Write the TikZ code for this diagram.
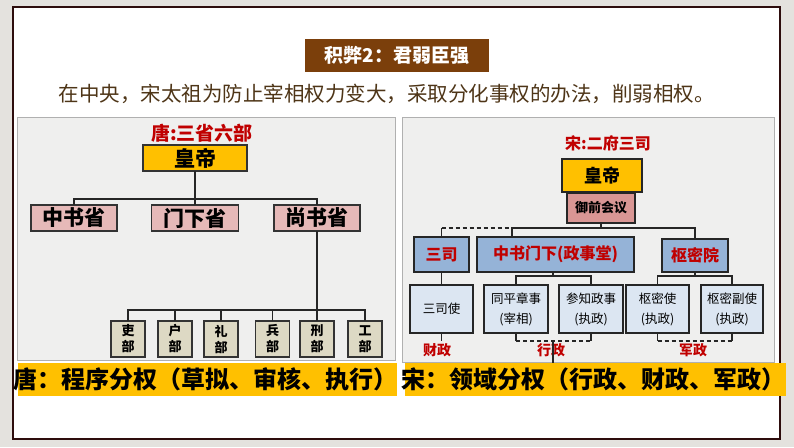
\documentclass[tikz,border=0pt]{standalone}
\usepackage{fontspec}
\setmainfont{Noto Sans CJK SC}
\definecolor{cbg}{HTML}{E4E2DE}
\definecolor{cframe}{HTML}{2E0D0D}
\definecolor{cbrown}{HTML}{7B3F0B}
\definecolor{csubt}{HTML}{4E3517}
\definecolor{cpanel}{HTML}{EFEFEE}
\definecolor{cpanelb}{HTML}{B0B0B0}
\definecolor{cgold}{HTML}{FFC000}
\definecolor{clpink}{HTML}{E6B9B8}
\definecolor{cmgray}{HTML}{DDD9C4}
\definecolor{crpink}{HTML}{D99694}
\definecolor{crblue}{HTML}{95B3D7}
\definecolor{clblue}{HTML}{DCE6F2}
\definecolor{ctred}{HTML}{C00000}
\begin{document}
\begin{tikzpicture}[x=1pt,y=-1pt,
  every node/.style={inner sep=0pt, outer sep=0pt},
  conn/.style={draw=black!85, line width=1.2pt},
  lbox/.style={draw=black!80, line width=1.8pt, fill=clpink, minimum height=26pt,
     font=\fontsize{21}{24}\selectfont\bfseries},
  mbox/.style={draw=black!80, line width=1.8pt, fill=cmgray, minimum width=34pt, minimum height=36pt,
     align=center, font=\fontsize{13}{16}\selectfont\bfseries},
  rbox/.style={draw=black!85, line width=1.5pt, fill=crblue, text=ctred, minimum height=35pt,
     font=\fontsize{16}{18}\selectfont\bfseries},
  sbox/.style={draw=black!85, line width=1.3pt, fill=clblue, minimum height=48pt,
     align=center, font=\fontsize{12.5}{20}\selectfont},
  lbl/.style={text=ctred, font=\fontsize{14}{16}\selectfont\bfseries},
  bantext/.style={font=\fontsize{24}{26}\selectfont\bfseries}
]
\useasboundingbox (0,0) rectangle (794,447);
\fill[cbg] (0,0) rectangle (794,447);
% frame
\draw[cframe, line width=2pt, fill=white] (13,7) rectangle (780,439);
% title
\node[fill=cbrown, minimum width=184pt, minimum height=33pt, text=white,
  font=\fontsize{19}{22}\selectfont\bfseries] (title) at (397,55.5) {积弊2：君弱臣强};
\node[text=csubt, font=\fontsize{20.5}{24}\selectfont] (sub) at (386.5,94)
  {在中央，宋太祖为防止宰相权力变大，采取分化事权的办法，削弱相权。};
% panels
\draw[fill=cpanel, draw=cpanelb, line width=0.8pt] (17,117) rectangle (395,360);
\draw[fill=cpanel, draw=cpanelb, line width=0.8pt] (402,117) rectangle (774,362);

% ---------- left: Tang ----------
\node[text=ctred, font=\fontsize{19}{22}\selectfont\bfseries] (ltitle) at (202,133) {唐:三省六部};
\node[lbox, fill=cgold, minimum width=104pt] (lemp) at (195,158) {皇帝};
\node[lbox, minimum width=86pt] (lzs) at (74,218) {中书省};
\node[lbox, minimum width=87pt] (lmx) at (195,218) {门下省};
\node[lbox, minimum width=86pt] (lss) at (317,218) {尚书省};
\coordinate (lbus) at (0,199);
\draw[conn] (lzs.north) -- (lzs.north |- lbus) -- (lss.north |- lbus) -- (lss.north);
\draw[conn] (lmx.north) -- (lmx.north |- lbus);
\draw[conn] (lemp.south) -- (lemp.south |- lbus);

\node[mbox] (m1) at (128,339) {吏\\部};
\node[mbox] (m2) at (175,339) {户\\部};
\node[mbox] (m3) at (221,339) {礼\\部};
\node[mbox] (m4) at (272.5,339) {兵\\部};
\node[mbox] (m5) at (317,339) {刑\\部};
\node[mbox] (m6) at (365,339) {工\\部};
\coordinate (mbus) at (0,310);
\draw[conn] (lss.south) -- (m5.north);
\draw[conn] (m1.north) -- (m1.north |- mbus) -- (m6.north |- mbus) -- (m6.north);
\foreach \m in {m2,m3,m4} \draw[conn] (\m.north) -- (\m.north |- mbus);

% ---------- right: Song ----------
\node[text=ctred, font=\fontsize{16}{18}\selectfont\bfseries] (rtitle) at (608,143) {宋:二府三司};
\node[draw=black!85, line width=1.6pt, fill=cgold, minimum width=80pt, minimum height=33pt,
  font=\fontsize{18}{20}\selectfont\bfseries] (remp) at (602,175.5) {皇帝};
\node[draw=black!85, line width=1.5pt, fill=crpink, minimum width=68pt, minimum height=30pt,
  font=\fontsize{13}{15}\selectfont\bfseries] (ryq) at (601,208) {御前会议};
\node[rbox, minimum width=55pt] (rsansi) at (441.5,254.5) {三司};
\node[rbox, minimum width=157pt] (rzs) at (555.5,254.5) {中书门下(政事堂)};
\node[rbox, minimum width=66pt, minimum height=33pt] (rsmy) at (695,255.5) {枢密院};
\coordinate (rj) at (512,228);
\draw[conn] (ryq.south) -- (ryq.south |- rj);
\draw[conn] (rj |- rzs.north) -- (rj) -- (rsmy.north |- rj) -- (rsmy.north);
\draw[conn] (rsansi.north) -- (rsansi.north |- rj);
\draw[conn, dashed, dash pattern=on 4pt off 3pt] (rsansi.north |- rj) -- (rj);

\node[sbox, minimum width=63pt] (rsss) at (441.5,309) {三司使};
\node[sbox, minimum width=64pt] (rtp) at (516,309) {同平章事\\(宰相)};
\node[sbox, minimum width=64pt] (rcz) at (591,309) {参知政事\\(执政)};
\node[sbox, minimum width=63pt] (rsm1) at (657.5,309) {枢密使\\(执政)};
\node[sbox, minimum width=62pt] (rsm2) at (732,309) {枢密副使\\(执政)};

\draw[conn] (rsansi.south) -- (rsss.north);
\coordinate (rb2) at (0,276);
\coordinate (zsd) at (553,272);
\draw[conn] (zsd) -- (zsd |- rb2);
\draw[conn] (rtp.north) -- (rtp.north |- rb2) -- (rcz.north |- rb2) -- (rcz.north);
\draw[conn] (rsmy.south) -- (rsmy.south |- rb2);
\draw[conn] (rsm1.north) -- (rsm1.north |- rb2) -- (rsm2.north |- rb2) -- (rsm2.north);

\coordinate (br) at (0,341);
\draw[conn] (rsss.south) -- (rsss.south |- br);
\draw[conn] (rtp.south) -- (rtp.south |- br);
\draw[conn] (rcz.south) -- (rcz.south |- br);
\draw[conn, dashed, dash pattern=on 4pt off 3pt] (rtp.south |- br) -- (rcz.south |- br);
\draw[conn] (rsm1.south) -- (rsm1.south |- br);
\draw[conn] (rsm2.south) -- (rsm2.south |- br);
\draw[conn, dashed, dash pattern=on 4pt off 3pt] (rsm1.south |- br) -- (rsm2.south |- br);

\node[lbl] (l1) at (437,350) {财政};
\node[lbl] (l2) at (551,350) {行政};
\node[lbl] (l3) at (693,350) {军政};
\coordinate (xz) at (553,341);
\draw[conn] (xz) -- (553,363);

% banners
\fill[cgold] (18,363) rectangle (397,396);
\fill[cgold] (405,363) rectangle (786,396);
\node[bantext] (lban) at (205,379.5) {唐：程序分权（草拟、审核、执行）};
\node[bantext] (rban) at (593,379.5) {宋：领域分权（行政、财政、军政）};
\end{tikzpicture}
\end{document}
